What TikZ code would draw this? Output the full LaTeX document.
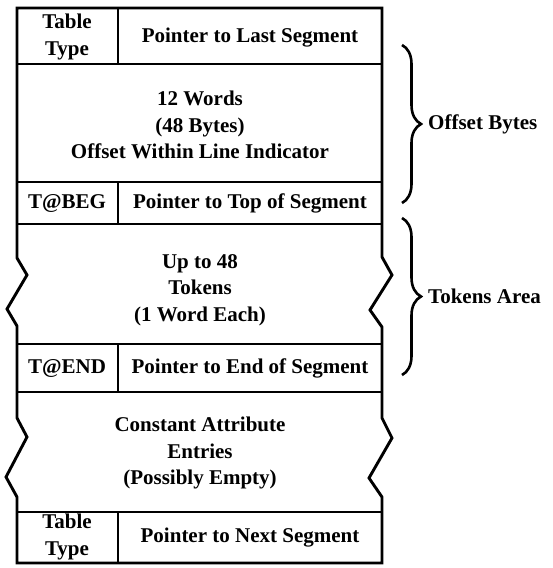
\documentclass[tikz,border=0pt]{standalone}
\usepackage{fontspec}
\setmainfont{Liberation Serif}
\usetikzlibrary{decorations.pathreplacing,calc}
\newcommand{\fieldfont}{\bfseries\fontsize{21}{26.5}\selectfont}

\begin{document}
\begin{tikzpicture}[x=1pt, y=-1pt,
  field/.style={font=\fieldfont, align=center, inner sep=0pt},
  frame/.style={line width=2.9pt, line join=miter},
  span/.style={decorate, decoration={brace, amplitude=19pt}, line width=2.6pt},
  spanlabel/.style={font=\fieldfont, anchor=west, inner sep=0pt}
]
\useasboundingbox (0,0) rectangle (552,568);

% outline of the segment, with the two break marks
\draw[frame] (17,8) -- (17,258) -- (27,275) -- (7,309) -- (17,326)
  -- (17,418) -- (27,437) -- (6,477) -- (17,497) -- (17,563)
  -- (382,563) -- (382,497) -- (369,478) -- (392,438) -- (382,418)
  -- (382,327) -- (370,310) -- (392,275) -- (382,257) -- (382,8) -- cycle;
\foreach \y in {64,182,224,344,392,512}
  \draw[frame] (17,\y) -- (382,\y);
\foreach \ya/\yb in {8/64,182/224,344/392,512/563}
  \draw[frame] (118,\ya) -- (118,\yb);

% fields
\node[field] (type1) at (67,37) {Table\\Type};
\node[field] (last) at (250,38) {Pointer to Last Segment};
\node[field] (offset) at (200,125) {12 Words\\(48 Bytes)\\Offset Within Line Indicator};
\node[field] (tbeg) at (67,203) {T@BEG};
\node[field] (top) at (250,203) {Pointer to Top of Segment};
\node[field] (tokens) at (200,290) {Up to 48\\Tokens\\(1 Word Each)};
\node[field] (tend) at (67,368) {T@END};
\node[field] (end) at (250,368) {Pointer to End of Segment};
\node[field] (const) at (200,453) {Constant Attribute\\Entries\\(Possibly Empty)};
\node[field] (type2) at (67,537) {Table\\Type};
\node[field] (next) at (250,538) {Pointer to Next Segment};

% braces on the right
\coordinate (ob1) at (402,45);
\coordinate (ob2) at (402,203);
\coordinate (ta1) at (402,218);
\coordinate (ta2) at (402,375);
\draw[span] (ob1) -- (ob2);
\draw[span] (ta1) -- (ta2);
\node[spanlabel] (obl) at ($(ob1)!0.5!(ob2)+(26,0)$) {Offset Bytes};
\node[spanlabel] (tal) at ($(ta1)!0.5!(ta2)+(26,0)$) {Tokens Area};
\end{tikzpicture}
\end{document}
